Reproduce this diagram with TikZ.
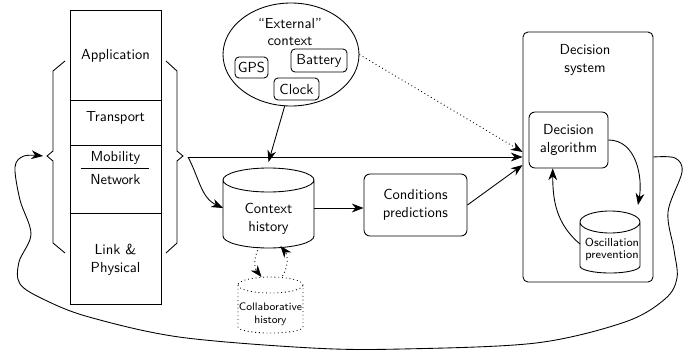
\documentclass[tikz,border=0pt]{standalone}
\usepackage{fontspec}
\usetikzlibrary{shapes.geometric,arrows.meta,calc}
\newlength\pxu
\setlength\pxu{0.687pt}
\newcommand\drawcyl[4][]{%
  \draw[ln,#1] let \p1=(#2.north west), \p2=(#2.north east), \n1={(\x2-\x1)/2} in
    (#2.north west) -- (#2.south west)
    arc[start angle=180,end angle=360,x radius=\n1,y radius=#4]
    -- (#2.north east)
    arc[start angle=0,end angle=180,x radius=\n1,y radius=#3] -- cycle
    (#2.north west) arc[start angle=180,end angle=360,x radius=\n1,y radius=#3];}
\begin{document}
\begin{tikzpicture}[x=0.687pt,y=-0.687pt,
  every node/.style={font=\sffamily},
  ln/.style={line width=0.6pt},
  arr/.style={line width=0.6pt,-{Stealth[length=8pt,width=6pt,inset=2.5pt]}},
  layer/.style={draw,line width=0.6pt,minimum width=91\pxu,inner sep=0pt},
  txt/.style={align=center,inner sep=0pt},
  rbox/.style={draw,line width=0.6pt,rounded corners=5\pxu,inner sep=0pt,align=center},
  body/.style={inner sep=0pt,outer sep=0pt}
]
\useasboundingbox (0,0) rectangle (699,352);
% protocol stack
\node[layer,minimum height=90\pxu] (app) at (115.5,55) {};
\node[layer,minimum height=45\pxu] (trn) at (115.5,122.5) {};
\node[layer,minimum height=68\pxu] (mob) at (115.5,179) {};
\node[layer,minimum height=91\pxu] (lnk) at (115.5,258.5) {};
\node[txt] (tapp) at (115.5,56) {Application};
\node[txt] (ttrn) at (115.5,118) {Transport};
\node[txt] (tmob) at (115.5,158) {Mobility};
\node[txt] (tnet) at (115.5,180) {Network};
\node[txt] (tlnk) at (115.5,260) {Link \&\\Physical};
\draw[ln] (81,168) -- (149,168);
% braces
\draw[ln] (65,61) -- (53,71) -- (53,151) -- (47,156) -- (53,161) -- (53,243) -- (65,253);
\draw[ln] (166,61) -- (177,71) -- (177,151) -- (183,156) -- (177,161) -- (177,243) -- (166,253);
\coordinate (rb) at (188,157);
\coordinate (lb) at (43,156);
% external context
\node[draw,ln,ellipse,minimum width=136\pxu,minimum height=103\pxu,inner sep=0pt] (ext) at (291,54.5) {};
\node[txt] (text) at (290,32) {“External”\\context};
\node[rbox,rounded corners=4\pxu,minimum width=33\pxu,minimum height=21\pxu] (gps) at (251.5,67.5) {GPS};
\node[rbox,rounded corners=4\pxu,minimum width=56\pxu,minimum height=23\pxu] (bat) at (319,60.5) {Battery};
\node[rbox,rounded corners=4\pxu,minimum width=45\pxu,minimum height=22\pxu] (clk) at (296.5,89) {Clock};
% decision system
\node[rbox,minimum width=130\pxu,minimum height=250\pxu] (ds) at (588,157) {};
\node[txt] (tds) at (585,60) {Decision\\system};
\node[rbox,rounded corners=6\pxu,minimum width=79\pxu,minimum height=56\pxu] (da) at (568.5,140) {Decision\\algorithm};
\node[body,minimum width=60\pxu,minimum height=44\pxu] (op) at (610,244) {};
\drawcyl{op}{11\pxu}{7\pxu}
\node[txt,font=\sffamily\footnotesize] (top) at (612,249.5) {Oscillation\\[-1.5pt]prevention};
% context history
\node[body,minimum width=91\pxu,minimum height=56\pxu] (ch) at (268.5,208) {};
\drawcyl{ch}{12\pxu}{12\pxu}
\node[txt] (tch) at (268.5,219) {Context\\history};
\node[rbox,rounded corners=6\pxu,minimum width=103\pxu,minimum height=62\pxu] (cp) at (415.5,205) {Conditions\\predictions};
\node[body,minimum width=65\pxu,minimum height=42\pxu] (cl) at (270.5,306) {};
\drawcyl[dotted]{cl}{8\pxu}{6\pxu}
\node[txt,font=\sffamily\fontsize{7.5}{9}\selectfont] (tcl) at (270.5,314) {Collaborative\\history};
% connectors
\draw[arr] (ext.-97) -- ($(ch.north)+(0,-18)$);
\draw[arr] (rb) -- (rb -| ds.west);
\draw[arr] (rb) to[out=-62,in=155] (ch.west);
\draw[arr] (ch.east) -- (ch.east -| cp.west);
\draw[arr] (cp.east) -- ($(ds.west)+(0,8)$);
\draw[arr,dotted] (ext.east) -- ($(ds.west)+(0,-5)$);
\draw[arr] (da.east) to[out=0,in=80] ($(op.north east)+(-2,-17)$);
\draw[arr] (op.west) to[out=140,in=-90] (da.-119);
\draw[arr,dotted] ($(ch.south)+(-9,11)$) to[bend right=35] ($(cl.north)+(-9,-8)$);
\draw[arr,dotted] ($(cl.north)+(12,-9)$) to[bend right=35] ($(ch.south)+(12,10)$);
\draw[arr] plot[smooth,tension=0.55] coordinates {(ds.east) (675,158) (682,172) (668,212) (674,250) (677,278) (665,299) (625,322) (536,343) (402,349) (312,348) (179,337) (89,317) (45,300) (20,284) (19,262) (31,234) (20,200) (15,167) (24,156) (lb)};
\end{tikzpicture}
\end{document}
